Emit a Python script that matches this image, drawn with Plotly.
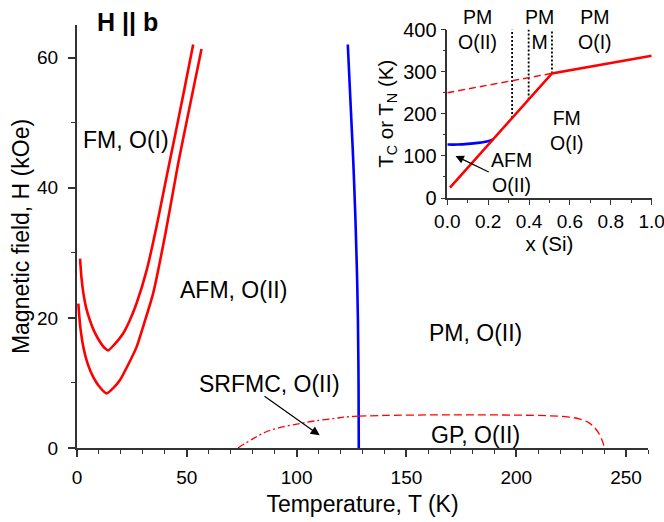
import plotly.graph_objects as go

# Main phase diagram, H || b: field H (kOe) versus temperature T (K)
# Inner (upper) FM/AFM transition curve
upper_T = [1.4, 2.0, 2.9, 4.2, 5.9, 8.0, 10.5, 12.5, 14.2, 17.0, 21.0, 24.0, 27.1, 31.7, 36.2, 40.8, 44.5, 48.7, 52.9]
upper_H = [29.1, 26.3, 23.8, 21.5, 19.6, 17.8, 16.3, 15.4, 15.0, 15.9, 17.6, 19.6, 22.2, 27.3, 34.0, 41.7, 47.8, 54.8, 62.0]
# Outer (lower) FM/AFM transition curve
lower_T = [0.6, 1.5, 2.9, 4.8, 7.4, 10.5, 13.5, 16.5, 19.5, 23.0, 27.1, 30.8, 34.7, 40.4, 46.0, 51.4, 56.7]
lower_H = [22.2, 18.6, 15.5, 13.0, 10.9, 9.3, 8.4, 9.2, 10.4, 12.6, 15.5, 19.4, 23.8, 33.2, 43.6, 52.6, 61.3]
# Neel line (AFM / PM)
neel_T = [128.3, 128.2, 127.9, 127.4, 126.7, 125.8, 124.7, 123.3]
neel_H = [0, 10, 20, 28, 36, 44, 52, 62]
# SRFMC boundary (dash-dot) and Griffiths-phase boundary (dashed)
srfmc_T = [73.3, 80.0, 86.2, 93.0, 101.4, 108.0, 116.5, 122.0, 127.9]
srfmc_H = [0.0, 1.4, 2.5, 3.2, 3.75, 4.15, 4.5, 4.75, 4.9]
gp_T = [127.9, 140, 160, 180, 200, 215, 224, 229, 233, 235.5, 237.7, 239.2, 240.2]
gp_H = [4.9, 5.0, 5.08, 5.1, 5.05, 4.95, 4.75, 4.45, 3.9, 3.2, 2.2, 1.1, 0.0]

# Main axis ticks
T_ticks = [0, 50, 100, 150, 200, 250]
H_ticks = [0, 20, 40, 60]

# Inset: transition temperatures versus Si content x
tc_x = [0.013, 0.512, 1.0]
tc_T = [24.5, 296, 338]
tc_ext_x = [0.0, 0.512]
tc_ext_T = [250, 296]
tn_x = [0.0, 0.05, 0.1, 0.15, 0.2, 0.225]
tn_T = [127, 127, 128.5, 131, 135, 139]
phase_x = [0.317, 0.398, 0.512]
phase_bottom = [190, 234, 296]
phase_top = 400

# Inset axis ticks
x_ticks = [0.0, 0.2, 0.4, 0.6, 0.8, 1.0]
x_ticktext = ["0.0", "0.2", "0.4", "0.6", "0.8", "1.0"]
T_inset_ticks = [0, 100, 200, 300, 400]

RED = "#ff0000"
BLUE = "#0000ff"
AXIS = "#333333"
FONT = "Liberation Sans, Arial, sans-serif"

fig = go.Figure()

line_main = dict(color=RED, width=2.6)
fig.add_trace(go.Scatter(x=upper_T, y=upper_H, mode="lines", line=dict(**line_main, shape="spline", smoothing=0.6)))
fig.add_trace(go.Scatter(x=lower_T, y=lower_H, mode="lines", line=dict(**line_main, shape="spline", smoothing=0.6)))
fig.add_trace(go.Scatter(x=neel_T, y=neel_H, mode="lines", line=dict(color=BLUE, width=2.6, shape="spline")))
fig.add_trace(go.Scatter(x=srfmc_T, y=srfmc_H, mode="lines",
                         line=dict(color=RED, width=1.3, dash="7px,3px,2px,3px", shape="spline")))
fig.add_trace(go.Scatter(x=gp_T, y=gp_H, mode="lines",
                         line=dict(color=RED, width=1.3, dash="8px,4px", shape="spline")))

# Inset traces
for xv, b in zip(phase_x, phase_bottom):
    fig.add_trace(go.Scatter(x=[xv, xv], y=[b, phase_top], mode="lines", xaxis="x2", yaxis="y2",
                             line=dict(color="black", width=1.8, dash="2px,2px")))
fig.add_trace(go.Scatter(x=tc_ext_x, y=tc_ext_T, mode="lines", xaxis="x2", yaxis="y2",
                         line=dict(color=RED, width=1.3, dash="7px,4px")))
fig.add_trace(go.Scatter(x=tn_x, y=tn_T, mode="lines", xaxis="x2", yaxis="y2",
                         line=dict(color=BLUE, width=2.6, shape="spline")))
fig.add_trace(go.Scatter(x=tc_x, y=tc_T, mode="lines", xaxis="x2", yaxis="y2",
                         line=dict(color=RED, width=2.6)))

main_font = dict(family=FONT, size=23, color="black")
inset_font = dict(family=FONT, size=19.5, color="black")

annotations = [
    dict(x=0.0875, y=1.006, xref="paper", yref="paper", xanchor="center", yanchor="middle",
         text="<b>H || b</b>", showarrow=False, font=dict(family=FONT, size=25, color="black")),
    dict(x=22.5, y=47.3, xref="x", yref="y", text="FM, O(I)", showarrow=False, font=main_font),
    dict(x=71.4, y=24.3, xref="x", yref="y", text="AFM, O(II)", showarrow=False, font=main_font),
    dict(x=181.4, y=17.6, xref="x", yref="y", text="PM, O(II)", showarrow=False, font=main_font),
    dict(x=181.4, y=2.0, xref="x", yref="y", text="GP, O(II)", showarrow=False, font=main_font),
    dict(x=87.7, y=9.9, xref="x", yref="y", text="SRFMC, O(II)", showarrow=False, font=main_font),
    dict(x=110.5, y=1.95, xref="x", yref="y", ax=84.7, ay=8.1, axref="x", ayref="y", text="",
         showarrow=True, arrowhead=2, arrowsize=1.5, arrowwidth=1.2, arrowcolor="black"),
    dict(x=0.149, y=400, xref="x2", yref="y2", text="PM<br>O(II)", showarrow=False, font=inset_font),
    dict(x=0.453, y=400, xref="x2", yref="y2", text="PM<br>M", showarrow=False, font=inset_font),
    dict(x=0.724, y=400, xref="x2", yref="y2", text="PM<br>O(I)", showarrow=False, font=inset_font),
    dict(x=0.587, y=161, xref="x2", yref="y2", text="FM<br>O(I)", showarrow=False, font=inset_font),
    dict(x=0.313, y=60, xref="x2", yref="y2", text="AFM<br>O(II)", showarrow=False, font=inset_font),
    dict(x=0.04, y=100, xref="x2", yref="y2", ax=0.21, ay=60, axref="x2", ayref="y2", text="",
         showarrow=True, arrowhead=2, arrowsize=1.4, arrowwidth=1.2, arrowcolor="black"),
]

fig.update_layout(
    width=664, height=522,
    margin=dict(l=77, r=10, t=25, b=74, pad=0, autoexpand=False),
    paper_bgcolor="white", plot_bgcolor="white",
    showlegend=False,
    font=dict(family=FONT, color="black"),
    annotations=annotations,
    xaxis=dict(
        domain=[0, 571 / 577], range=[0, 260], showgrid=False, zeroline=False, automargin=False,
        showline=True, linecolor=AXIS, linewidth=2,
        ticks="outside", ticklen=7, tickwidth=1.5, tickcolor=AXIS, tickvals=T_ticks,
        minor=dict(ticks="outside", ticklen=4, tickwidth=1, tickcolor=AXIS, dtick=10, tick0=0),
        tickfont=dict(family=FONT, size=19, color="black"), ticklabelstandoff=4,
        title=dict(text="Temperature, T (K)", font=dict(family=FONT, size=23), standoff=9),
    ),
    yaxis=dict(
        range=[0, 65], showgrid=False, zeroline=False, automargin=False,
        showline=True, linecolor=AXIS, linewidth=2,
        ticks="outside", ticklen=7, tickwidth=1.5, tickcolor=AXIS, tickvals=H_ticks,
        minor=dict(ticks="outside", ticklen=4, tickwidth=1, tickcolor=AXIS, dtick=10, tick0=0),
        tickfont=dict(family=FONT, size=19, color="black"), ticklabelstandoff=6,
        title=dict(text="Magnetic field, H (kOe)", font=dict(family=FONT, size=23), standoff=1),
    ),
    xaxis2=dict(
        domain=[0.6418, 0.9960], anchor="y2", range=[0, 1], showgrid=False, zeroline=False,
        automargin=False, showline=True, linecolor=AXIS, linewidth=1.5,
        ticks="outside", ticklen=5, tickwidth=1.2, tickcolor=AXIS,
        tickvals=x_ticks, ticktext=x_ticktext, ticklabeloverflow="allow",
        minor=dict(ticks="outside", ticklen=3, tickwidth=1, tickcolor=AXIS, dtick=0.1, tick0=0),
        tickfont=dict(family=FONT, size=19, color="black"),
        title=dict(text="x (Si)", font=dict(family=FONT, size=20.5), standoff=4),
    ),
    yaxis2=dict(
        domain=[0.5910, 0.9891], anchor="x2", range=[0, 400], showgrid=False, zeroline=False,
        automargin=False, showline=True, linecolor=AXIS, linewidth=1.5,
        ticks="outside", ticklen=5, tickwidth=1.2, tickcolor=AXIS, tickvals=T_inset_ticks,
        minor=dict(ticks="outside", ticklen=3, tickwidth=1, tickcolor=AXIS, dtick=50, tick0=0),
        tickfont=dict(family=FONT, size=20, color="black"),
        title=dict(text="T<sub>C</sub> or T<sub>N</sub> (K)", font=dict(family=FONT, size=20.5), standoff=4),
    ),
)

fig.write_html("out.html")
